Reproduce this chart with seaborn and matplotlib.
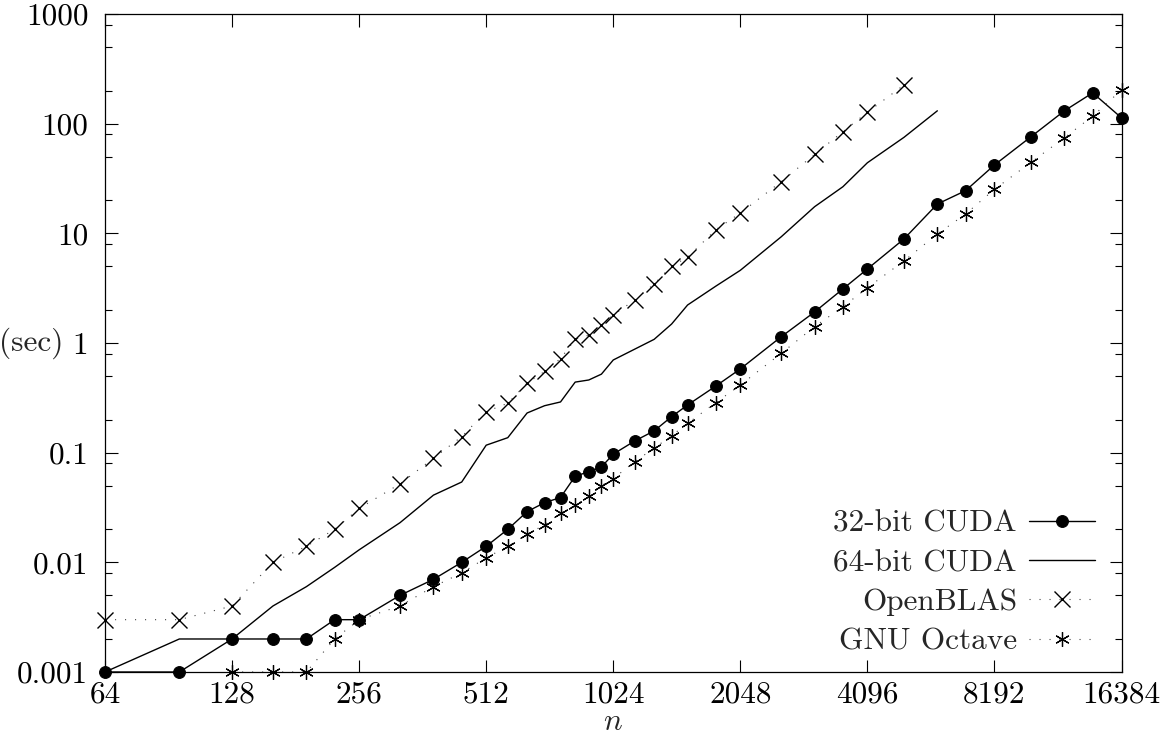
import numpy as np
import matplotlib
matplotlib.use("Agg")
import matplotlib.pyplot as plt
import matplotlib.ticker as mticker
import seaborn as sns

# matrix size n and run time in seconds
n_cuda32 = [64, 96, 128, 160, 192, 224, 256, 320, 384, 448, 512, 576, 640, 704, 768,
            832, 896, 960, 1024, 1152, 1280, 1408, 1536, 1792, 2048, 2560, 3072, 3584,
            4096, 5000, 6000, 7000, 8192, 10000, 12000, 14000, 16384]
t_cuda32 = [0.001, 0.001, 0.002, 0.002, 0.002, 0.003, 0.003, 0.005, 0.007, 0.010, 0.014,
            0.020, 0.029, 0.035, 0.039, 0.061, 0.067, 0.074, 0.097, 0.128, 0.158, 0.213,
            0.272, 0.405, 0.58, 1.14, 1.92, 3.11, 4.73, 8.88, 18.5, 24.5, 42, 76, 131,
            191, 113]

n_cuda64 = [64, 96, 128, 160, 192, 224, 256, 320, 384, 448, 512, 576, 640, 704, 768,
            832, 896, 960, 1024, 1152, 1280, 1408, 1536, 1792, 2048, 2560, 3072, 3584,
            4096, 5000, 6000]
t_cuda64 = [0.001, 0.002, 0.002, 0.004, 0.006, 0.009, 0.013, 0.023, 0.041, 0.054, 0.117,
            0.137, 0.23, 0.268, 0.29, 0.44, 0.46, 0.52, 0.70, 0.88, 1.08, 1.49, 2.22,
            3.3, 4.6, 9.3, 17.5, 26.6, 44, 75, 131]

n_openblas = [64, 96, 128, 160, 192, 224, 256, 320, 384, 448, 512, 576, 640, 704, 768,
              832, 896, 960, 1024, 1152, 1280, 1408, 1536, 1792, 2048, 2560, 3072, 3584,
              4096, 5000]
t_openblas = [0.003, 0.003, 0.004, 0.010, 0.014, 0.020, 0.031, 0.052, 0.089, 0.14, 0.237,
              0.282, 0.43, 0.55, 0.72, 1.08, 1.18, 1.46, 1.8, 2.47, 3.45, 5.04, 6.04,
              10.8, 15.3, 29.6, 52.5, 84.5, 127, 225]

n_octave = [128, 160, 192, 224, 256, 320, 384, 448, 512, 576, 640, 704, 768, 832, 896,
            960, 1024, 1152, 1280, 1408, 1536, 1792, 2048, 2560, 3072, 3584, 4096, 5000,
            6000, 7000, 8192, 10000, 12000, 14000, 16384]
t_octave = [0.001, 0.001, 0.001, 0.002, 0.003, 0.004, 0.006, 0.008, 0.011, 0.014, 0.018,
            0.022, 0.028, 0.033, 0.040, 0.050, 0.058, 0.083, 0.11, 0.143, 0.185, 0.286,
            0.414, 0.805, 1.41, 2.14, 3.19, 5.6, 9.86, 15.0, 25.2, 44.4, 74.5, 117, 203]

x_ticks = [64, 128, 256, 512, 1024, 2048, 4096, 8192, 16384]
y_ticks = [0.001, 0.01, 0.1, 1, 10, 100, 1000]
y_tick_labels = ["0.001", "0.01", "0.1", "1", "10", "100", "1000"]

sns.set_theme(style="ticks")
plt.rcParams["font.family"] = ["cmr10", "DejaVu Serif"]
plt.rcParams["mathtext.fontset"] = "cm"
plt.rcParams["axes.unicode_minus"] = False
plt.rcParams["axes.formatter.use_mathtext"] = True

FS = 22.5

fig = plt.figure(figsize=(11.71, 7.49), dpi=100)
ax = fig.add_axes([105 / 1171, 1 - 672 / 749, 1016.5 / 1171, 658 / 749])

dots = (0, (1, 8))

sns.lineplot(x=n_cuda32, y=t_cuda32, ax=ax, color="black", linewidth=1.0,
             marker="o", markersize=8.5, markeredgecolor="black", markerfacecolor="black",
             clip_on=False, label="32-bit CUDA")
sns.lineplot(x=n_cuda64, y=t_cuda64, ax=ax, color="black", linewidth=1.0,
             clip_on=False, label="64-bit CUDA")
sns.lineplot(x=n_openblas, y=t_openblas, ax=ax, color="#444444", linewidth=0.8,
             linestyle=dots, marker="x", markersize=11.5, markeredgewidth=1.0,
             markeredgecolor="black", clip_on=False, label="OpenBLAS")
sns.lineplot(x=n_octave, y=t_octave, ax=ax, color="#444444", linewidth=0.8,
             linestyle=dots, marker=(6, 2, 0), markersize=10.5, markeredgewidth=0.9,
             markeredgecolor="black", clip_on=False, label="GNU Octave")

ax.set_xscale("log", base=2)
ax.set_yscale("log")
ax.set_xlim(64, 16384)
ax.set_ylim(0.001, 1000)

ax.xaxis.set_major_locator(mticker.FixedLocator(x_ticks))
ax.xaxis.set_major_formatter(mticker.FixedFormatter([str(v) for v in x_ticks]))
ax.xaxis.set_minor_locator(mticker.NullLocator())
ax.yaxis.set_major_locator(mticker.FixedLocator(y_ticks))
ax.yaxis.set_major_formatter(mticker.FixedFormatter(y_tick_labels))
ax.yaxis.set_minor_locator(mticker.LogLocator(base=10, subs=(2, 5, 8)))
ax.yaxis.set_minor_formatter(mticker.NullFormatter())

for side in ["top", "right", "bottom", "left"]:
    ax.spines[side].set_visible(True)
    ax.spines[side].set_linewidth(0.9)
    ax.spines[side].set_color("black")

ax.tick_params(which="both", direction="in", top=True, right=True, colors="black")
ax.tick_params(which="major", length=9, width=0.8, labelsize=FS)
ax.tick_params(which="minor", length=5, width=0.8)
ax.tick_params(axis="x", which="major", pad=6)
ax.tick_params(axis="y", which="major", pad=12)

ax.set_xlabel("$n$", fontsize=FS, labelpad=0)
ax.set_ylabel("(sec)", fontsize=FS, rotation=0, ha="right", va="center")
ax.yaxis.set_label_coords(-0.041, 0.5)

ax.legend(loc="lower right", frameon=False, markerfirst=False, fontsize=FS,
          handlelength=2.1, handletextpad=0.4, labelspacing=0.36,
          borderpad=0.0, borderaxespad=0.0, numpoints=1,
          bbox_to_anchor=(0.974, 0.025))

fig.savefig("out.png", dpi=100)
